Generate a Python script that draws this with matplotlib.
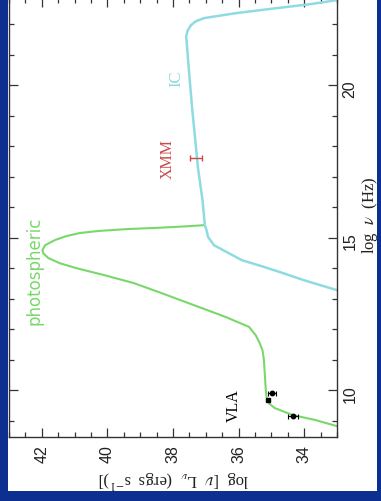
import matplotlib
matplotlib.use("Agg")
import matplotlib.pyplot as plt
from matplotlib.patches import Rectangle
from matplotlib.ticker import MultipleLocator

plt.rcParams['mathtext.fontset'] = 'stix'

# photospheric + radio curve: log nu (Hz), log nuLnu (erg/s)
phot_nu = [8.80, 9.02, 9.18, 9.41, 9.57, 9.77, 10.0, 10.5, 11.0, 11.3, 11.55, 11.8,
           12.07, 12.4, 12.8, 13.2, 13.51, 13.77, 14.0, 14.16, 14.33, 14.48, 14.59,
           14.75, 14.92, 15.05, 15.15, 15.22, 15.28, 15.33, 15.37, 15.41]
phot_L = [32.95, 33.67, 34.35, 34.9, 35.08, 35.15, 35.17, 35.2, 35.23, 35.27, 35.36, 35.48,
          35.68, 36.4, 37.4, 38.4, 39.2, 40.1, 40.95, 41.45, 41.8, 41.95, 41.98,
          41.9, 41.6, 41.25, 40.85, 40.25, 39.4, 38.3, 37.6, 37.03]

# inverse Compton curve
ic_nu = [13.26, 13.6, 13.87, 14.05, 14.26, 14.49, 14.75, 15.02, 15.25, 15.41, 16.23,
         17.3, 18.3, 19.28, 20.3, 20.82, 21.38, 21.6, 21.8, 21.97, 22.1, 22.2, 22.36,
         22.52, 22.66, 22.8]
ic_L = [32.95, 34.0, 34.74, 35.26, 35.9, 36.3, 36.75, 36.93, 36.98, 37.03, 37.1,
        37.24, 37.33, 37.42, 37.5, 37.54, 37.58, 37.6, 37.55, 37.45, 37.3, 37.05, 36.1,
        34.9, 33.8, 32.95]

# VLA points
vla_nu = [9.15, 9.9]
vla_L = [34.34, 34.98]
vla_err = [0.14, 0.13]
vla_sq_nu = [9.67]
vla_sq_L = [35.1]

# XMM point
xmm_nu = [17.6]
xmm_L = [37.3]
xmm_err = [0.18]

BLUE = '#0d2f8f'
GREEN = '#79d86a'
CYAN = '#8fdbe2'
RED = '#cc4a4a'
INK = '#333333'

fig = plt.figure(figsize=(3.81, 5.02), dpi=100, facecolor=BLUE)
fig.patches.append(Rectangle((8 / 381, 10 / 502), 369 / 381, 492 / 502,
                             transform=fig.transFigure, facecolor='white',
                             edgecolor='none', zorder=-10))

ax = fig.add_axes([9 / 381, 64 / 502, 328 / 381, 439 / 502])
ax.set_facecolor('white')
ax.set_zorder(5)

ax.plot(phot_L, phot_nu, color=GREEN, lw=1.5)
ax.plot(ic_L, ic_nu, color=CYAN, lw=1.8)
ax.errorbar(vla_L, vla_nu, xerr=vla_err, fmt='o', ms=3.2, color='black',
            capsize=1.8, elinewidth=0.8, capthick=0.8)
ax.plot(vla_sq_L, vla_sq_nu, 's', ms=3.2, color='black')
ax.errorbar(xmm_L, xmm_nu, xerr=xmm_err, fmt='none', ecolor=RED,
            capsize=2.5, elinewidth=1.0, capthick=1.0)

ax.text(42.21, 13.93, 'photospheric', color=GREEN, rotation=90, fontsize=12,
        family='DejaVu Sans', ha='center', va='center')
ax.text(38.15, 17.6, 'XMM', color=RED, rotation=90, fontsize=11.5,
        family='Liberation Serif', ha='center', va='center')
ax.text(37.91, 20.23, 'IC', color=CYAN, rotation=90, fontsize=12,
        family='Liberation Serif', ha='center', va='center')
ax.text(36.14, 9.51, 'VLA', color='black', rotation=90, fontsize=11.5,
        family='Liberation Serif', ha='center', va='center')

ax.set_xlim(43, 33)
ax.set_ylim(8.46, 22.86)

ax.xaxis.set_major_locator(MultipleLocator(2))
ax.xaxis.set_minor_locator(MultipleLocator(0.5))
ax.yaxis.set_major_locator(MultipleLocator(5))
ax.yaxis.set_minor_locator(MultipleLocator(1))

ax.tick_params(which='both', direction='in', top=True, bottom=True, left=True,
               right=True, labelleft=False, labelright=True, colors=INK,
               labelcolor='#222222', width=0.9)
ax.tick_params(which='major', length=6.5, labelsize=11.5, labelrotation=90)
ax.tick_params(which='minor', length=3.5)
ax.tick_params(axis='x', pad=5)
ax.tick_params(axis='y', pad=4)
for lab in ax.get_xticklabels() + ax.get_yticklabels():
    lab.set_family('Liberation Sans')
for sp in ax.spines.values():
    sp.set_color(INK)
    sp.set_linewidth(1.0)

fig.text(174 / 381, 1 - 479 / 502,
         r'log  [$\nu$  L$_\nu$  (ergs  s$^{-1}$)]', rotation=180,
         ha='center', va='center', fontsize=12, family='Liberation Serif',
         color='#222222')
fig.text(370 / 381, 1 - 215 / 502, r'log  $\nu$  (Hz)', rotation=90,
         ha='center', va='center', fontsize=12, family='Liberation Serif',
         color='#222222')

fig.savefig('out.png', dpi=100, facecolor=fig.get_facecolor())
